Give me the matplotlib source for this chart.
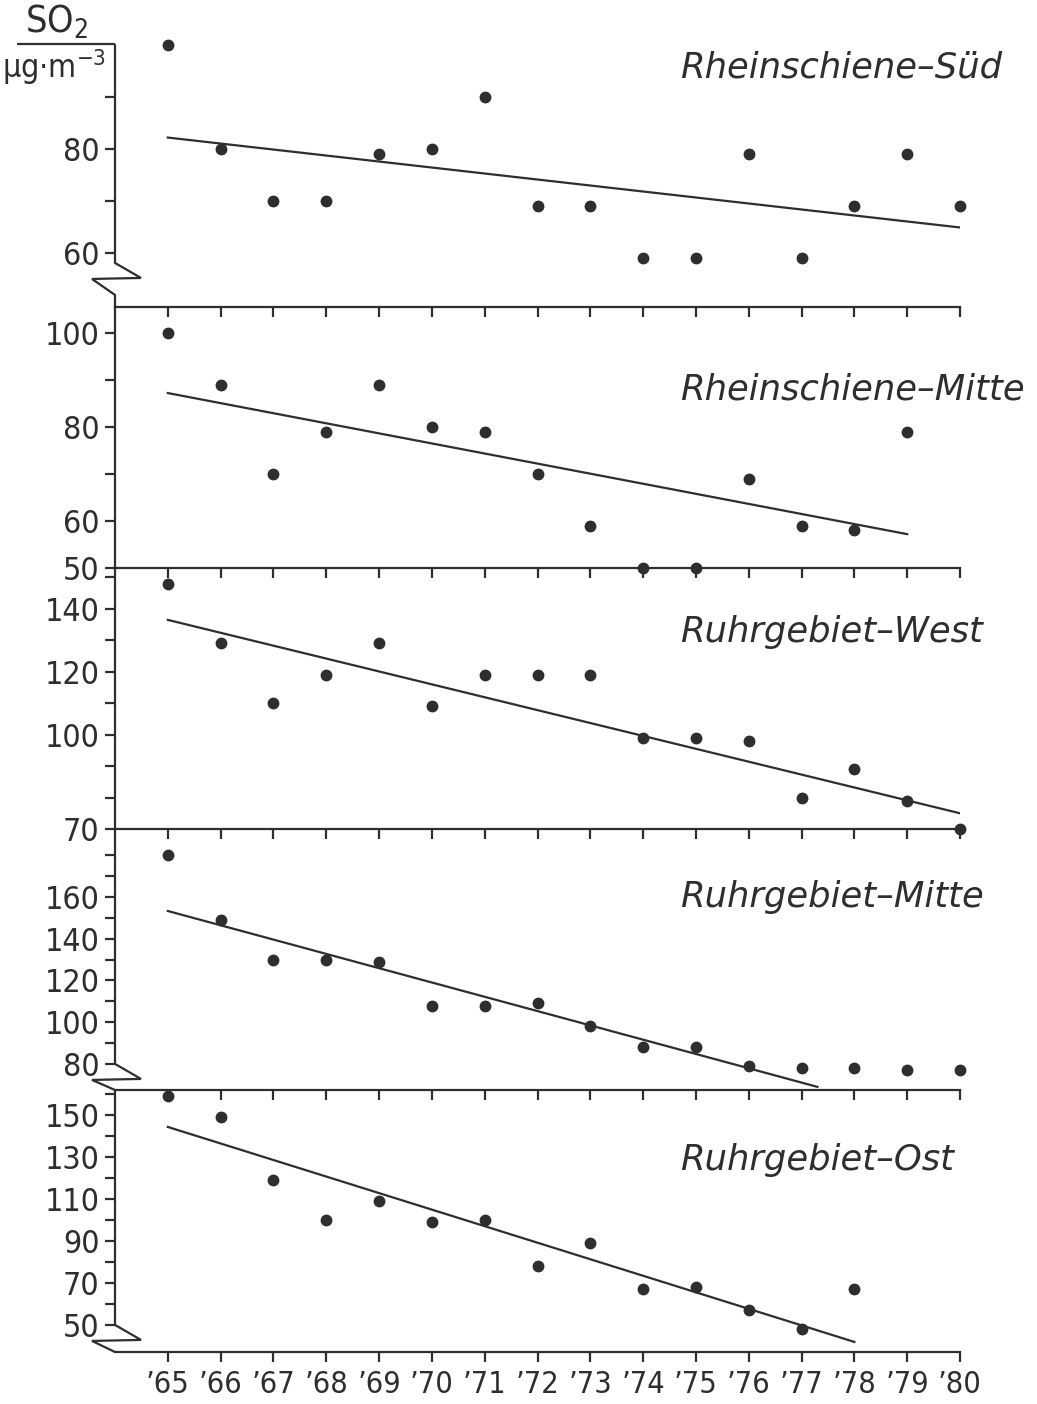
import numpy as np
import matplotlib
matplotlib.use('Agg')
import matplotlib.pyplot as plt
from matplotlib.lines import Line2D
from matplotlib.ticker import FixedLocator

nan = np.nan

years = np.arange(65, 81)
year_labels = ['\u2019%d' % y for y in years]

titles = ['Rheinschiene\u2013Süd', 'Rheinschiene\u2013Mitte', 'Ruhrgebiet\u2013West',
          'Ruhrgebiet\u2013Mitte', 'Ruhrgebiet\u2013Ost']

# SO2 annual means in µg/m3 ('65 ... '80), nan = no value
rs_sued  = [100, 80, 70, 70, 79, 80, 90, 69, 69, 59, 59, 79, 59, 69, 79, 69]
rs_mitte = [100, 89, 70, 79, 89, 80, 79, 70, 59, 50, 50, 69, 59, 58, 79, nan]
rg_west  = [148, 129, 110, 119, 129, 109, 119, 119, 119, 99, 99, 98, 80, 89, 79, 70]
rg_mitte = [180, 149, 130, 130, 129, 108, 108, 109, 98, 88, 88, 79, 78, 78, 77, 77]
rg_ost   = [159, 149, 119, 100, 109, 99, 100, 78, 89, 67, 68, 57, 48, 67, nan, nan]
series = [rs_sued, rs_mitte, rg_west, rg_mitte, rg_ost]

# regression lines: (x start, x end), (y start, y end)
trend_x = [(65, 80), (65, 79), (65, 80), (65, 77.3), (65, 78)]
trend_y = [(82.2, 64.9), (87.2, 57.2), (136.5, 75.0), (153.3, 69.0), (144.3, 41.9)]

ylims = [(49.6, 100.2), (50, 105.5), (70, 153), (67.5, 192.6), (37.1, 161.9)]
major = [[60, 80], [50, 60, 80, 100], [70, 100, 120, 140],
         [80, 100, 120, 140, 160], [50, 70, 90, 110, 130, 150]]
minor = [[70, 90], [70, 90], [80, 90, 110, 130, 150],
         [90, 110, 130, 150, 170, 180], [60, 80, 100, 120, 140, 160]]
has_break = [True, False, False, True, True]
title_y = [0.909, 0.682, 0.755, 0.739, 0.732]

ink = '#2e2e2e'
lw = 1.6
W, H = 1037, 1404
L, R = 115, 960
bounds = [44, 307, 568, 829, 1090, 1352]

plt.rcParams['font.family'] = ['DejaVu Sans']
plt.rcParams['font.stretch'] = 'condensed'
plt.rcParams['mathtext.default'] = 'regular'
plt.rcParams['text.color'] = ink

fig = plt.figure(figsize=(W / 100, H / 100), dpi=100)
fig.patch.set_facecolor('white')


def px(x, y):
    return x / W, 1 - y / H


def fig_line(pts):
    xs, ys = zip(*[px(x, y) for x, y in pts])
    fig.add_artist(Line2D(xs, ys, transform=fig.transFigure, color=ink, lw=lw,
                          solid_joinstyle='miter', solid_capstyle='butt'))


for i in range(5):
    top, bot = bounds[i], bounds[i + 1]
    x0, y0 = px(L, bot)
    ax = fig.add_axes([x0, y0, (R - L) / W, (bot - top) / H])
    ax.set_facecolor('none')
    ax.set_xlim(64, 80)
    ax.set_ylim(*ylims[i])

    ax.plot(years, series[i], 'o', color=ink, ms=7.5, clip_on=False, zorder=3)
    ax.plot(trend_x[i], trend_y[i], '-', color=ink, lw=lw)

    for s in ['top', 'right']:
        ax.spines[s].set_visible(False)
    ax.spines['bottom'].set_linewidth(lw)
    ax.spines['bottom'].set_color(ink)
    ax.spines['left'].set_linewidth(lw)
    ax.spines['left'].set_color(ink)

    ax.set_xticks(years)
    if i == 4:
        ax.set_xticklabels(year_labels, fontsize=22)
    else:
        ax.set_xticklabels([])
    ax.tick_params(axis='x', direction='out', length=7, width=lw, color=ink,
                   pad=6, labelcolor=ink)

    ax.yaxis.set_major_locator(FixedLocator(major[i]))
    ax.yaxis.set_minor_locator(FixedLocator(minor[i]))
    ax.set_yticklabels([str(v) for v in major[i]], fontsize=23)
    ax.tick_params(axis='y', which='both', direction='out', length=7, width=lw,
                   color=ink, pad=4, labelcolor=ink)

    ax.text(0.669, title_y[i], titles[i], transform=ax.transAxes, ha='left',
            va='center', fontsize=25.5, style='italic', stretch='normal',
            color=ink)

    if has_break[i]:
        # axis break: spine runs down to the lowest label, then the zig-zag
        ax.spines['left'].set_visible(False)
        low = min(major[i])
        tick_px = H - ax.transData.transform((64, low))[1]
        z_top = tick_px + max(0, min(10, (bot - tick_px) - 36))
        z_bot = min(z_top + 32, bot)
        fig_line([(L, top), (L, z_top), (L + 26, z_top + 15),
                  (L - 23, z_top + 16), (L, z_bot), (L, bot)])

# unit label
fig.text(*px(56, 22), 'SO$_2$', ha='center', va='center', fontsize=27, color=ink)
fig_line([(17, 44), (L, 44)])
fig.text(*px(54, 67), 'µg·m$^{-3}$', ha='center', va='center', fontsize=23, color=ink)

fig.savefig('out.png', dpi=100, facecolor='white')
